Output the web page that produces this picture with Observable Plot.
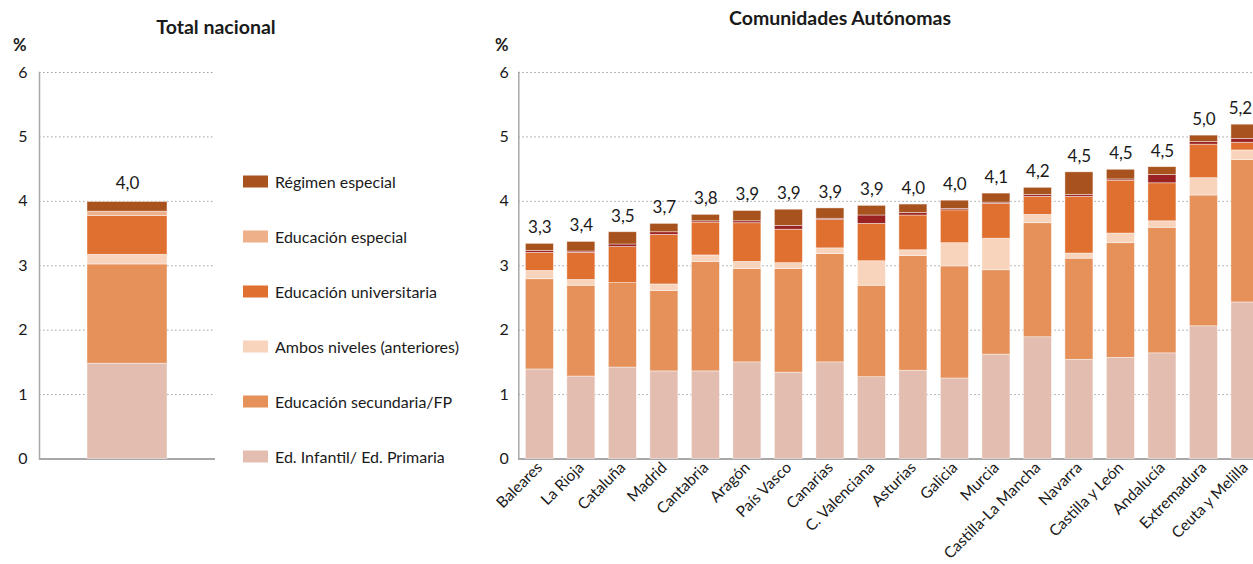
<!DOCTYPE html>
<html><head><meta charset="utf-8">
<script src="https://cdn.jsdelivr.net/npm/d3@7"></script>
<script src="https://cdn.jsdelivr.net/npm/@observablehq/plot@0.6"></script>
<style>
html,body{margin:0;padding:0;width:1253px;height:564px;overflow:hidden;background:#fff;font-family:Lato,"Open Sans",sans-serif;color:#1a1a1a}
#root{position:relative;width:1253px;height:564px;overflow:hidden}
.abs{position:absolute;white-space:nowrap}
.title{font-weight:bold;font-size:19.5px;transform:translate(-50%,-50%)}
.pct{font-weight:bold;font-size:16.5px;transform:translateY(-50%)}
.leg{display:flex;align-items:center;font-size:16px;transform:translateY(-50%)}
.sw{width:25px;height:12px;margin-right:7px}
svg{max-width:none !important}
</style></head><body><div id="root"></div>
<script>
// ---------- data ----------
const series = ["Ed. Infantil/ Ed. Primaria","Educación secundaria/FP","Ambos niveles (anteriores)","Educación universitaria","Educación especial","Régimen especial"];
const coloursTotal   = ["#E3BEB0","#E6915A","#F8D4BC","#E07030","#EDB088","#A8521E"];
const coloursRegions = ["#E3BEB0","#E6915A","#F8D4BC","#E07030","#9A2222","#A8521E"];

const totalCategory = "Total nacional";
const totalValues = [1.48, 1.54, 0.15, 0.60, 0.07, 0.15];
const totalLabel = "4,0";

const regions = ["Baleares","La Rioja","Cataluña","Madrid","Cantabria","Aragón","País Vasco","Canarias","C. Valenciana","Asturias","Galicia","Murcia","Castilla-La Mancha","Navarra","Castilla y León","Andalucía","Extremadura","Ceuta y Melilla"];
const primaria      = [1.39,1.28,1.42,1.36,1.36,1.50,1.34,1.50,1.27,1.37,1.25,1.62,1.89,1.54,1.57,1.64,2.06,2.43];
const secundaria    = [1.40,1.41,1.31,1.25,1.70,1.45,1.61,1.68,1.42,1.78,1.74,1.31,1.77,1.57,1.78,1.95,2.03,2.21];
const ambos         = [0.13,0.09,0.00,0.10,0.10,0.11,0.09,0.09,0.38,0.09,0.36,0.49,0.13,0.08,0.15,0.10,0.27,0.15];
const universitaria = [0.28,0.42,0.56,0.77,0.51,0.60,0.52,0.44,0.58,0.54,0.51,0.54,0.28,0.88,0.82,0.59,0.52,0.12];
const especial      = [0.03,0.02,0.04,0.04,0.02,0.03,0.06,0.02,0.13,0.04,0.02,0.02,0.03,0.03,0.02,0.13,0.04,0.06];
const regimen       = [0.11,0.15,0.19,0.13,0.10,0.16,0.25,0.16,0.15,0.13,0.13,0.14,0.11,0.35,0.15,0.12,0.10,0.22];
const regionLabels  = ["3,3","3,4","3,5","3,7","3,8","3,9","3,9","3,9","3,9","4,0","4,0","4,1","4,2","4,5","4,5","4,5","5,0","5,2"];

const yTicks = [0,1,2,3,4,5,6];

// ---------- tables ----------
const seriesValues = [primaria, secundaria, ambos, universitaria, especial, regimen];
const regionRows = [];
regions.forEach((r,i) => seriesValues.forEach((vals,k) => regionRows.push({region:r, serie:series[k], value:vals[i]})));
const regionTotals = regions.map((r,i) => ({region:r, total: d3.sum(seriesValues, v => v[i]), label: regionLabels[i]}));
const lastIdx = regions.length - 1;
const totalRows = series.map((s,k) => ({cat: totalCategory, serie: s, value: totalValues[k]}));
const totalTop = [{cat: totalCategory, total: d3.sum(totalValues), label: totalLabel}];

const FONT = "Lato, 'Open Sans', sans-serif";
const root = document.getElementById("root");

function common(){
  return [
    Plot.gridY(yTicks.filter(t => t > 0), {stroke:"#a0a0a0", strokeOpacity:1, strokeDasharray:"1.5,2.5"}),
    Plot.frame({anchor:"left", stroke:"#a8a8a8", strokeWidth:1.5}),
    Plot.ruleY([0], {stroke:"#a8a8a8", strokeWidth:2})
  ];
}

// ---------- left chart ----------
const left = Plot.plot({
  width: 215, height: 564,
  marginLeft: 39, marginRight: 0, marginTop: 72, marginBottom: 105.5,
  style: {fontFamily: FONT, color:"#1a1a1a", background:"transparent", overflow:"visible"},
  x: {domain:[totalCategory], padding:0.375, round:false, axis:null},
  y: {domain:[0,6], ticks: yTicks, axis:null},
  color: {domain: series, range: coloursTotal},
  marks: [
    ...common(),
    Plot.barY(totalRows, {x:"cat", y:"value", fill:"serie", stroke:"#fff", strokeWidth:0.7, strokeOpacity:0.6}),
    Plot.text(totalTop, {x:"cat", y:"total", text:"label", dy:-18, fontSize:17, fill:"#1a1a1a"}),
    Plot.axisY(yTicks, {tickSize:0, tickPadding:12, fontSize:16, tickFormat: d => d, label:null})
  ]
});
left.style.position = "absolute"; left.style.left = "0px"; left.style.top = "0px";
root.appendChild(left);

// ---------- right chart ----------
const right = Plot.plot({
  width: 806, height: 564,
  marginLeft: 58.3, marginRight: 0, marginTop: 72, marginBottom: 105.5,
  style: {fontFamily: FONT, color:"#1a1a1a", background:"transparent", overflow:"visible"},
  x: {domain: regions, paddingInner:0.325, paddingOuter:0.17, round:false, label:null},
  y: {domain:[0,6], ticks: yTicks, axis:null},
  color: {domain: series, range: coloursRegions},
  marks: [
    ...common(),
    Plot.barY(regionRows, {x:"region", y:"value", fill:"serie", stroke:"#fff", strokeWidth:0.7, strokeOpacity:0.6}),
    Plot.text(regionTotals.slice(0, lastIdx), {x:"region", y:"total", text:"label", dy:-16, fontSize:17, fill:"#1a1a1a"}),
    Plot.text(regionTotals.slice(lastIdx), {x:"region", y:"total", text:"label", dy:-16, dx:-5, fontSize:17, fill:"#1a1a1a"}),
    Plot.axisY(yTicks, {tickSize:0, tickPadding:10, fontSize:16, tickFormat: d => d, label:null}),
    Plot.axisX({tickRotate:-45, tickSize:0, tickPadding:6, fontSize:15.5, label:null})
  ]
});
right.style.position = "absolute"; right.style.left = "460px"; right.style.top = "0px";
root.appendChild(right);

// ---------- html text: titles, units, legend ----------
function addDiv(cls, text, x, y){
  const d = document.createElement("div");
  d.className = "abs " + cls; d.textContent = text;
  d.style.left = x + "px"; d.style.top = y + "px";
  root.appendChild(d); return d;
}
addDiv("title", "Total nacional", 216, 26);
addDiv("title", "Comunidades Autónomas", 840, 17);
addDiv("pct", "%", 13, 45);
addDiv("pct", "%", 495, 45);

const legendOrder = series.map((s,k) => ({s, c: coloursTotal[k]})).reverse();
legendOrder.forEach((item, i) => {
  const d = document.createElement("div");
  d.className = "abs leg";
  d.style.left = "243px"; d.style.top = (181 + i*55) + "px";
  const sw = document.createElement("span"); sw.className = "sw"; sw.style.background = item.c;
  const t = document.createElement("span"); t.textContent = item.s;
  d.appendChild(sw); d.appendChild(t); root.appendChild(d);
});
</script>
</body></html>
